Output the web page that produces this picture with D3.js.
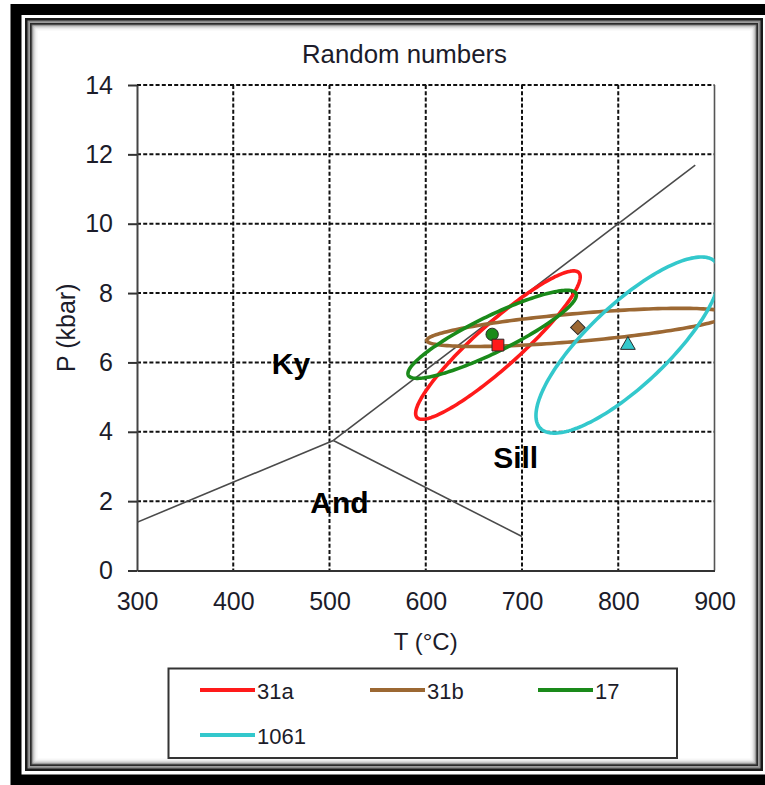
<!DOCTYPE html>
<html>
<head>
<meta charset="utf-8">
<script src="https://cdn.jsdelivr.net/npm/d3@7/dist/d3.min.js"></script>
<style>
  body { margin: 0; background: #fff; }
  svg { display: block; }
  text { font-family: "Liberation Sans", Arial, sans-serif; fill: #1c1c2a; }
</style>
</head>
<body>
<svg id="chart" width="765" height="785"></svg>
<script>
// Axis ticks
const tempTicks = [300, 400, 500, 600, 700, 800, 900];
const pressTicks = [0, 2, 4, 6, 8, 10, 12, 14];

// Samples: best-fit P-T and the error ellipse of each
const samples = ["31a", "31b", "17", "1061"];
const bestT = [675, 758, 669, 810];
const bestP = [6.5, 7.01, 6.81, 6.5];
const sigmaT = [85.5, 157, 87.5, 95.5];
const sigmaP = [2.14, 0.55, 1.27, 2.54];
const correlation = [0.92, 0.68, 0.89, 0.80];

// Al2SiO5 phase boundaries (T in °C, P in kbar)
const kyAndBoundary = [[300, 1.39], [504, 3.75]];
const kySillBoundary = [[504, 3.75], [880, 11.69]];
const andSillBoundary = [[504, 3.75], [700, 0.98]];

// Stability field names, anchored at (T, P)
const fieldNames = ["Ky", "Sill", "And"];
const fieldT = [440, 670, 480];
const fieldP = [5.66, 2.95, 1.65];

// Styling
const seriesColors = ["#ff1a1a", "#9c6833", "#1a8a1a", "#33c8cc"];
const markerShapes = [d3.symbolSquare, "diamond", d3.symbolCircle, d3.symbolTriangle];

const svg = d3.select("#chart");
const W = 765, H = 785;

// ---- page frame ----
svg.append("rect").attr("width", W).attr("height", H).attr("fill", "#fff");
svg.append("rect").attr("x", 16).attr("y", 9.5).attr("width", 756).attr("height", 770.5)
  .attr("fill", "none").attr("stroke", "#000").attr("stroke-width", 11);
const innerFrame = [
  { i: 0, w: 3, c: "#1a1a1a" },
  { i: 2.5, w: 2, c: "#8a8a8a" },
  { i: 4.75, w: 2.5, c: "#2a2a2a" },
  { i: 6.5, w: 1, c: "#6e6e6e" },
  { i: 7.5, w: 1, c: "#9a9a9a" },
  { i: 8.5, w: 1, c: "#bdbdbd" },
  { i: 9.5, w: 1, c: "#d8d8d8" },
  { i: 10.5, w: 1, c: "#ececec" },
  { i: 11.5, w: 1, c: "#f6f6f6" }
];
innerFrame.forEach(f => {
  const x0 = 25 + f.i + f.w / 2, y0 = 18 + f.i + f.w / 2;
  const x1 = 763 - f.i - f.w / 2, y1 = 771 - f.i - f.w / 2;
  svg.append("rect").attr("x", x0).attr("y", y0)
    .attr("width", x1 - x0).attr("height", y1 - y0)
    .attr("fill", "none").attr("stroke", f.c).attr("stroke-width", f.w);
});

// ---- plot area ----
const plotL = 137, plotR = 714.5, plotT = 85, plotB = 570.5;
const x = d3.scaleLinear().domain([300, 900]).range([plotL, plotR]);
const y = d3.scaleLinear().domain([0, 14]).range([plotB, plotT]);

svg.append("defs").append("clipPath").attr("id", "plotClip")
  .append("rect").attr("x", plotL).attr("y", plotT)
  .attr("width", plotR - plotL).attr("height", plotB - plotT);

// dashed grid
const grid = svg.append("g").attr("stroke", "#111").attr("stroke-width", 2)
  .attr("stroke-dasharray", "4,2.2");
grid.selectAll("line.v").data(tempTicks.filter(t => t > 300 && t < 900)).join("line")
  .attr("class", "v")
  .attr("x1", d => x(d)).attr("x2", d => x(d)).attr("y1", plotT).attr("y2", plotB);
grid.selectAll("line.h").data(pressTicks.filter(p => p > 0)).join("line")
  .attr("class", "h")
  .attr("x1", plotL).attr("x2", plotR).attr("y1", d => y(d)).attr("y2", d => y(d));

// right border
svg.append("line").attr("x1", plotR).attr("x2", plotR).attr("y1", plotT).attr("y2", plotB)
  .attr("stroke", "#555").attr("stroke-width", 1.6);

// axes
const yAxis = svg.append("g").attr("transform", `translate(${plotL},0)`)
  .call(d3.axisLeft(y).tickValues(pressTicks).tickSize(9).tickSizeOuter(0).tickPadding(15));
yAxis.select(".domain").attr("stroke", "#444").attr("stroke-width", 2);
yAxis.selectAll(".tick line").attr("stroke", "#333").attr("stroke-width", 2);
yAxis.selectAll("text").attr("font-size", 25).attr("font-family", "Liberation Sans, Arial, sans-serif").attr("fill", "#1c1c2a");

const xAxis = svg.append("g").attr("transform", `translate(0,${plotB})`)
  .call(d3.axisBottom(x).tickValues(tempTicks).tickSize(0).tickSizeOuter(0).tickPadding(22));
xAxis.select(".domain").attr("stroke", "#333").attr("stroke-width", 2);
xAxis.selectAll("text").attr("font-size", 25).attr("font-family", "Liberation Sans, Arial, sans-serif").attr("fill", "#1c1c2a");

// phase boundaries
const boundaryLine = d3.line().x(d => x(d[0])).y(d => y(d[1]));
const phase = svg.append("g").attr("clip-path", "url(#plotClip)")
  .attr("fill", "none").attr("stroke", "#4a4a4a").attr("stroke-width", 1.6);
[kyAndBoundary, kySillBoundary, andSillBoundary].forEach(b =>
  phase.append("path").attr("d", boundaryLine(b)));

// field names
svg.selectAll("text.field").data(fieldNames).join("text")
  .attr("class", "field")
  .attr("x", (d, i) => x(fieldT[i])).attr("y", (d, i) => y(fieldP[i]))
  .attr("font-family", "Lato, 'Open Sans', sans-serif").attr("font-weight", 700)
  .attr("font-size", 30).style("fill", "#000").text(d => d);

// error ellipses: (T, P) = centre + sigma-scaled correlated unit circle
const angles = d3.range(0, 360, 2).map(a => a * Math.PI / 180);
const ellipseLine = d3.line().x(d => x(d[0])).y(d => y(d[1])).curve(d3.curveLinearClosed);
const ellipses = svg.append("g").attr("clip-path", "url(#plotClip)").attr("fill", "none")
  .attr("stroke-width", 3.6).attr("stroke-linejoin", "round");
samples.forEach((s, i) => {
  const r = correlation[i], q = Math.sqrt(1 - r * r);
  const pts = angles.map(a => [
    bestT[i] + sigmaT[i] * Math.cos(a),
    bestP[i] + sigmaP[i] * (r * Math.cos(a) + q * Math.sin(a))
  ]);
  ellipses.append("path").attr("d", ellipseLine(pts)).attr("stroke", seriesColors[i]);
});

// best-fit markers
const markerOrder = [2, 0, 1, 3];
const markerSize = { 0: 140, 1: 105, 2: 120, 3: 95 };
markerOrder.forEach(i => {
  const shape = markerShapes[i];
  const g = svg.append("path")
    .attr("fill", seriesColors[i]).attr("stroke", "#2a2a2a").attr("stroke-width", 1);
  if (shape === "diamond") {
    g.attr("d", d3.symbol(d3.symbolSquare, markerSize[i])())
      .attr("transform", `translate(${x(bestT[i])},${y(bestP[i])}) rotate(45)`);
  } else {
    g.attr("d", d3.symbol(shape, markerSize[i])())
      .attr("transform", `translate(${x(bestT[i])},${y(bestP[i])})`);
  }
});

// titles
svg.append("text").attr("x", 404.5).attr("y", 63).attr("text-anchor", "middle")
  .attr("font-size", 25.8).text("Random numbers");
svg.append("text").attr("x", (plotL + plotR) / 2).attr("y", 650).attr("text-anchor", "middle")
  .attr("font-size", 24).text("T (°C)");
svg.append("text").attr("transform", `translate(75,${(plotT + plotB) / 2}) rotate(-90)`)
  .attr("text-anchor", "middle").attr("font-size", 25).text("P (kbar)");

// legend
const legend = svg.append("g");
legend.append("rect").attr("x", 168.5).attr("y", 668.5).attr("width", 508.5).attr("height", 89.5)
  .attr("fill", "#fff").attr("stroke", "#333").attr("stroke-width", 2);
const legendCol = [200, 370, 538];
const legendRow = [690, 735];
samples.forEach((s, i) => {
  const lx = legendCol[i % 3], ly = legendRow[Math.floor(i / 3)];
  legend.append("line").attr("x1", lx).attr("x2", lx + 55).attr("y1", ly).attr("y2", ly)
    .attr("stroke", seriesColors[i]).attr("stroke-width", 4);
  legend.append("text").attr("x", lx + 57).attr("y", ly + 9).attr("font-size", 22).text(s);
});
</script>
</body>
</html>
